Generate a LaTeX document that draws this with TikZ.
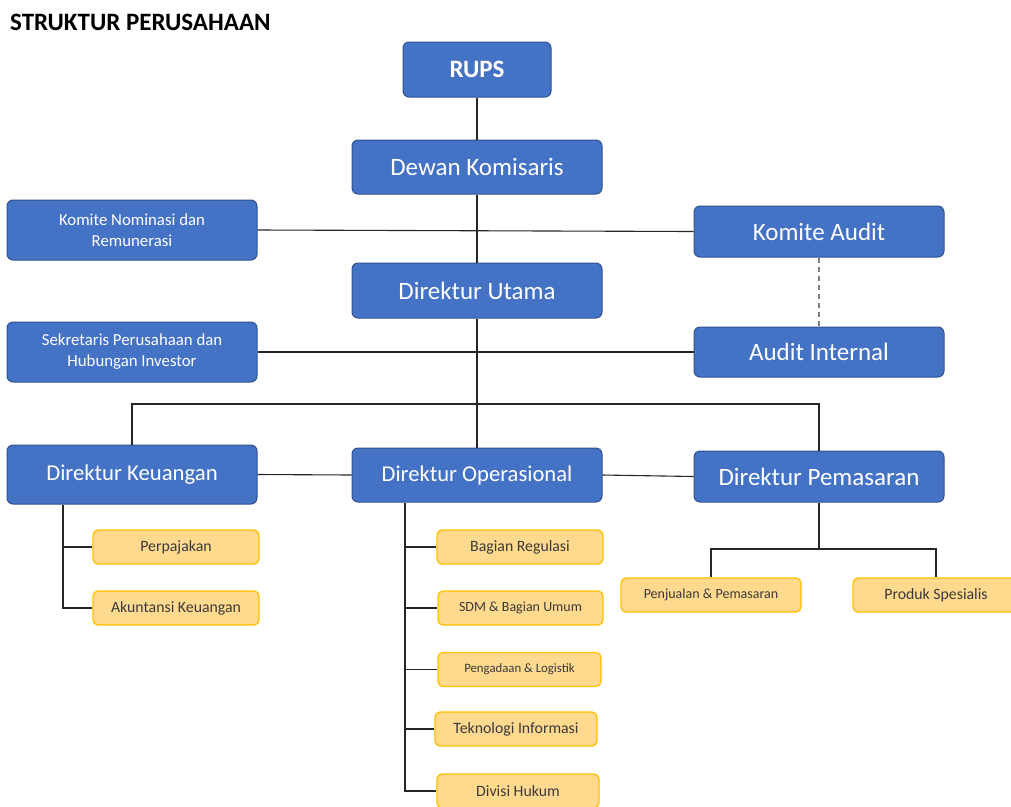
\documentclass[tikz,border=0pt]{standalone}
\usepackage{fontspec}
\setmainfont{Carlito}
\usetikzlibrary{calc}
\definecolor{boxblue}{HTML}{4472C4}
\definecolor{edgeblue}{HTML}{2F528F}
\definecolor{boxgold}{HTML}{FFD98E}
\definecolor{edgegold}{HTML}{FFC000}
\definecolor{inkgray}{HTML}{3A3A3A}
\definecolor{linkgray}{HTML}{262626}
\newcommand{\fs}[1]{\fontsize{#1}{1.25\dimexpr#1pt\relax}\selectfont}
\tikzset{
  dirbox/.style={draw=edgeblue,fill=boxblue,text=white,line width=1pt,rounded corners=6pt,
    minimum width=250pt,minimum height=54pt,inner sep=0pt,font=\fs{25},align=center},
  unitbox/.style={draw=edgegold,fill=boxgold,text=inkgray,line width=1.3pt,rounded corners=5pt,
    minimum width=166pt,minimum height=34pt,inner sep=0pt,font=\fs{15.8}},
  link/.style={draw=linkgray,line width=1.1pt}}

\begin{document}
\begin{tikzpicture}[x=1pt,y=-1pt]
\useasboundingbox (0,0) rectangle (1011,806);
\clip (0,0) rectangle (1011,806);
\node[anchor=west,inner sep=0pt,font=\bfseries\fs{25}] (title) at (10,22) {STRUKTUR PERUSAHAAN};
% board level
\node[dirbox,minimum width=148pt,minimum height=55pt,font=\bfseries\fs{25}] (rups) at (477,69.5) {RUPS};
\node[dirbox] (dewan) at (477,167) {Dewan Komisaris};
\node[dirbox,minimum height=60pt,font=\fs{16.8}] (komnom) at (132,230) {Komite Nominasi dan\\Remunerasi};
\node[dirbox,minimum height=51pt] (komaud) at (819,231.5) {Komite Audit};
\node[dirbox,minimum height=55pt] (utama) at (477,290.5) {Direktur Utama};
\node[dirbox,minimum height=60pt,font=\fs{16.8}] (sekper) at (132,352) {Sekretaris Perusahaan dan\\Hubungan Investor};
\node[dirbox,minimum height=50pt] (audint) at (819,352) {Audit Internal};
% directors
\node[dirbox,minimum height=59pt,font=\fs{22.7}] (dirkeu) at (132,474.5) {Direktur Keuangan};
\node[dirbox,font=\fs{22.6}] (dirops) at (477,475) {Direktur Operasional};
\node[dirbox,minimum height=51pt] (dirpem) at (819,476.5) {Direktur Pemasaran};
% units
\node[unitbox] (pajak) at (176,547) {Perpajakan};
\node[unitbox] (akun) at (176,608) {Akuntansi Keuangan};
\node[unitbox] (regul) at (520,547) {Bagian Regulasi};
\node[unitbox,minimum width=165pt,font=\fs{14}] (sdm) at (520.5,608) {SDM \& Bagian Umum};
\node[unitbox,minimum width=163pt,font=\fs{12.8}] (logis) at (519.5,669.5) {Pengadaan \& Logistik};
\node[unitbox,minimum width=162pt] (tekno) at (516,729) {Teknologi Informasi};
\node[unitbox,minimum width=162pt] (hukum) at (518,791) {Divisi Hukum};
\node[unitbox,minimum width=180pt,font=\fs{14}] (jual) at (711,595) {Penjualan \& Pemasaran};
\node[unitbox,minimum width=166pt] (produk) at (936,595) {Produk Spesialis};
% connectors
\draw[link] (rups) -- (dewan);
\draw[link] (dewan) -- (utama);
\draw[link] (utama) -- (dirops);
\draw[link] (komnom.east) -- (komaud.west);
\draw[link,draw=gray,dash pattern=on 5pt off 4pt] (komaud) -- (audint);
\draw[link] (sekper.east) -- (audint.west);
\coordinate (bus) at (477,404);
\draw[link] (dirkeu.north) |- (bus) -| (dirpem.north);
\draw[link] (dirkeu.east) -- (dirops.west);
\draw[link] (dirops.east) -- (dirpem.west);
\draw[link] (dirkeu.south -| 63,0) |- (akun.west);
\draw[link] (pajak.west -| 63,0) -- (pajak.west);
\draw[link] (dirops.south -| 405,0) |- (hukum.west);
\foreach \u in {regul,sdm,logis,tekno}
  \draw[link] (\u.west -| 405,0) -- (\u.west);
\coordinate (split) at (819,549);
\draw[link] (dirpem) -- (split);
\draw[link] (jual.north) |- (split) -| (produk.north);
\end{tikzpicture}
\end{document}
